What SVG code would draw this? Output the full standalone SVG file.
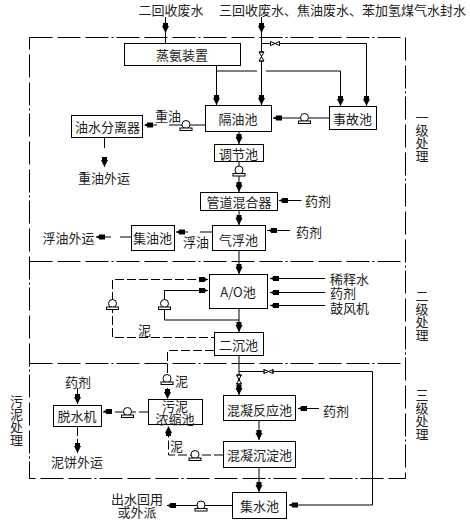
<svg xmlns="http://www.w3.org/2000/svg" width="470" height="526" viewBox="0 0 470 526">
<style>
text{font-family:"Noto Sans CJK SC","Liberation Sans",sans-serif;font-size:13px;fill:#222;text-anchor:middle;dominant-baseline:central}
.vt{writing-mode:vertical-rl}
.b{fill:#fff;stroke:#000;stroke-width:1}
.l{fill:none;stroke:#000;stroke-width:1}
.d{fill:none;stroke:#000;stroke-width:1;stroke-dasharray:9 3}
.f{fill:none;stroke:#000;stroke-width:1;stroke-dasharray:23 5 23 5 23 3 2 3}
</style>
<defs>
<g id="ad"><path d="M-3.500 -7H3.500L0 0Z" fill="#000"/><rect x="-2.500" y="-10" width="5" height="4" fill="#000"/></g>
<g id="au"><path d="M-3.500 7H3.500L0 0Z" fill="#000"/><rect x="-2.500" y="6" width="5" height="4" fill="#000"/></g>
<g id="al"><path d="M0 0L4 -2V2Z" fill="#000"/><rect x="3" y="-2.500" width="6" height="5" fill="#000"/></g>
<g id="ar"><path d="M0 0L-4 -2V2Z" fill="#000"/><rect x="-9" y="-2.500" width="6" height="5" fill="#000"/></g>
<g id="p"><circle cx="0" cy="-0.500" r="4" fill="#fff" stroke="#000"/><rect x="-6" y="3" width="12" height="2.500" fill="#fff" stroke="#000"/></g>
<g id="vh"><path d="M-4.500 -2V2M4.500 -2V2M-4.500 -2L4.500 2V-2L-4.500 2Z" fill="#fff" stroke="#000"/></g>
<g id="vv"><path d="M-2.500 -4.500H2.500M-2.500 4.500H2.500M-2.500 -4.500L2.500 4.500H-2.500L2.500 -4.500Z" fill="#fff" stroke="#000"/></g>
</defs>
<g id="frames">
<rect class="f" x="29.500" y="37.500" width="376" height="441"/>
<path class="f" d="M29.500 261.500H405.500M29.500 363.500H405.500"/>
</g>
<g id="connectors">
<path class="l" d="M165.500 17V43M261.500 17V105M261.500 43.500H366.500V106M216.500 65V105M216.500 71H257M266 71H340.500V106"/>
<path class="l" d="M205 125H169M157 125H145M329 118H273M104.500 137V148M104.500 157V167"/>
<path class="l" d="M239 131V144M239 161V192M239 210V225M239 250V274M239 308V332M239 355V395"/>
<path class="l" d="M212 232H200M188 232H176M131 237H120M111 237H96M301.500 200.500H279M290 230.500H267"/>
<path class="l" d="M325 278.500H270M325 292.500H270M325 305.500H270M208 290.500H164.500V320H239"/>
<path class="d" d="M208 279.500H112.500V337.500H214M214 350.500H167.500V399M148 412H103M77.500 427V453M223 455H168.500V426"/>
<path class="l" d="M77.500 388V404M319 408.500H298M259 420V440M259 467V492M239 371.500H372.500V505H289M232 505.500H167"/>
</g>
<g id="n1"><rect class="b" x="124.500" y="43.500" width="116" height="22"/><text x="182" y="54.500">蒸氨装置</text></g>
<g id="n2"><rect class="b" x="205.500" y="105.500" width="66" height="26"/><text x="238" y="118.500">隔油池</text></g>
<g id="n3"><rect class="b" x="329.500" y="106.500" width="47" height="23"/><text x="352.500" y="118">事故池</text></g>
<g id="n4"><rect class="b" x="71.500" y="115.500" width="71" height="22"/><text x="107.500" y="126.500">油水分离器</text></g>
<g id="n5"><rect class="b" x="214.500" y="144.500" width="49" height="17"/><text x="238.500" y="153.500">调节池</text></g>
<g id="n6"><rect class="b" x="200.500" y="192.500" width="77" height="18"/><text x="239" y="201">管道混合器</text></g>
<g id="n7"><rect class="b" x="212.500" y="225.500" width="53" height="25"/><text x="238.500" y="239">气浮池</text></g>
<g id="n8"><rect class="b" x="131.500" y="225.500" width="43" height="25"/><text x="152.500" y="237.500">集油池</text></g>
<g id="n9"><rect class="b" x="209.500" y="274.500" width="58" height="34"/><text x="238" y="291.500">A/O池</text></g>
<g id="n10"><rect class="b" x="214.500" y="332.500" width="49" height="23"/><text x="238.500" y="344">二沉池</text></g>
<g id="n11"><rect class="b" x="53.500" y="405.500" width="48" height="21"/><text x="77" y="415.500">脱水机</text></g>
<g id="n12"><rect class="b" x="148.500" y="399.500" width="54" height="25"/><text><tspan x="175" y="405">污泥</tspan><tspan x="175" y="418">浓缩池</tspan></text></g>
<g id="n13"><rect class="b" x="223.500" y="395.500" width="72" height="25"/><text x="259.500" y="409">混凝反应池</text></g>
<g id="n14"><rect class="b" x="223.500" y="441.500" width="72" height="26"/><text x="259.500" y="454.500">混凝沉淀池</text></g>
<g id="n15"><rect class="b" x="232.500" y="492.500" width="54" height="26"/><text x="259.500" y="505.500">集水池</text></g>
<g id="symbols">
<use href="#ad" x="165.500" y="33"/><use href="#ad" x="261.500" y="33"/><use href="#ad" x="261.500" y="105"/><use href="#ad" x="216.500" y="105"/><use href="#ad" x="340.500" y="106"/><use href="#ad" x="366.500" y="106"/><use href="#ad" x="239" y="144"/><use href="#ad" x="239" y="192"/><use href="#ad" x="239" y="225"/><use href="#ad" x="239" y="274"/><use href="#ad" x="239" y="332"/><use href="#ad" x="104.500" y="167"/><use href="#ad" x="259" y="440"/><use href="#ad" x="259" y="492"/><use href="#ad" x="239" y="395"/><use href="#ad" x="167.500" y="399"/><use href="#ad" x="77.500" y="404"/><use href="#ad" x="77.500" y="453"/>
<use href="#au" x="168.500" y="426"/>
<use href="#al" x="144" y="125"/><use href="#al" x="273" y="118"/><use href="#al" x="279" y="200.500"/><use href="#al" x="268" y="230.500"/><use href="#al" x="176" y="232"/><use href="#al" x="96" y="237"/><use href="#al" x="270" y="278.500"/><use href="#al" x="270" y="292.500"/><use href="#al" x="270" y="305.500"/><use href="#al" x="103" y="411.500"/><use href="#al" x="298" y="408.500"/><use href="#al" x="289" y="505"/><use href="#al" x="167" y="505.500"/>
<use href="#ar" x="208" y="279.500"/><use href="#ar" x="208" y="290.500"/>
<use href="#p" x="186" y="125"/><use href="#p" x="304.500" y="118"/><use href="#p" x="239" y="170.500"/><use href="#p" x="112.500" y="304"/><use href="#p" x="164.500" y="304"/><use href="#p" x="167" y="379"/><use href="#p" x="127.500" y="412"/><use href="#p" x="195" y="455"/><use href="#p" x="201" y="505.500"/>
<use href="#vv" x="261.500" y="56.500"/><use href="#vh" x="275" y="43.500"/><use href="#vv" x="239" y="379.500"/><use href="#vh" x="268.500" y="371.500"/>
</g>
<g id="labels">
<text x="171" y="9.500">二回收废水</text><text x="342.500" y="9.500">三回收废水、焦油废水、苯加氢煤气水封水</text>
<text x="168" y="115.500">重油</text><text x="104" y="177.500">重油外运</text><text x="318" y="200.500">药剂</text><text x="309" y="231.500">药剂</text><text x="196" y="241.500">浮油</text><text x="68.500" y="237.500">浮油外运</text>
<text x="349.500" y="278.500">稀释水</text><text x="343" y="292.500">药剂</text><text x="349.500" y="307">鼓风机</text><text x="144.500" y="329.500">泥</text><text x="78" y="381">药剂</text><text x="181.500" y="380">泥</text><text x="176.500" y="445.500">泥</text><text x="336" y="410">药剂</text><text x="77" y="461">泥饼外运</text>
<text><tspan x="137" y="497.500">出水回用</tspan><tspan x="137" y="510.500">或外派</tspan></text>
<text class="vt" x="422" y="137">一级处理</text>
<text class="vt" x="422" y="316">二级处理</text>
<text class="vt" x="422" y="415">三级处理</text>
<text class="vt" x="16.500" y="421">污泥处理</text>
</g>
</svg>
